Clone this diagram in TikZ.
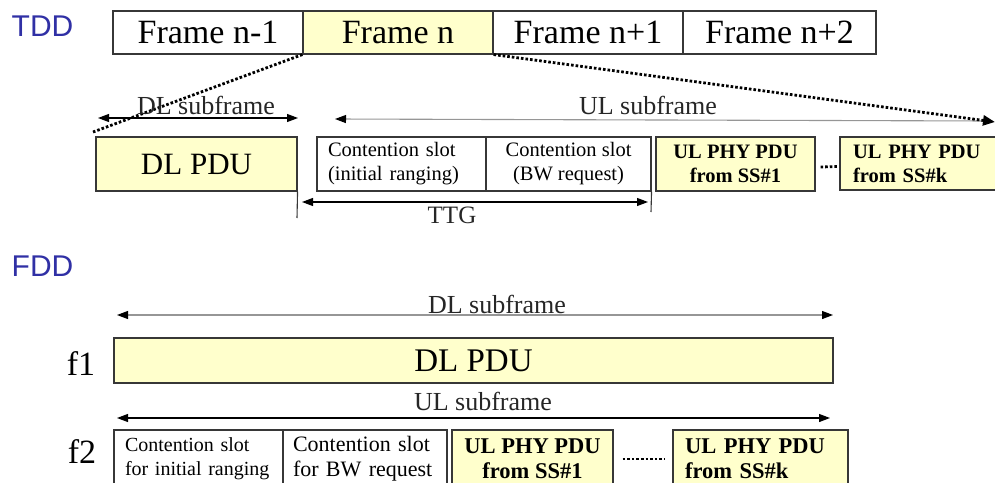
\documentclass[tikz,border=0pt]{standalone}
\usepackage{fontspec}
\setmainfont{Liberation Serif}
\newfontfamily\labelsans{Liberation Sans}
\usetikzlibrary{arrows.meta}
\definecolor{pdufill}{RGB}{255,255,204}
\definecolor{boxline}{RGB}{55,55,55}
\definecolor{modeblue}{RGB}{48,48,165}
\definecolor{spangray}{RGB}{150,150,150}

\begin{document}
\begin{tikzpicture}[x=1pt,y=-1pt,
  cell/.style={draw=boxline,line width=1.1pt,inner sep=0pt,text=black,align=center},
  pdu/.style={cell,fill=pdufill},
  mode/.style={font=\labelsans\fontsize{30}{30}\selectfont,text=modeblue,inner sep=0pt},
  spanlabel/.style={font=\fontsize{26}{26}\selectfont,inner sep=0pt,text=black!85},
  rowlabel/.style={font=\fontsize{34}{34}\selectfont,inner sep=0pt},
  framefont/.style={font=\fontsize{34}{34}\selectfont},
  spanarrow/.style={line width=1.1pt,draw=black,
    {Triangle[length=11pt,width=8pt]}-{Triangle[length=11pt,width=8pt]}},
  grayspan/.style={line width=1.1pt,draw=spangray,
    {Triangle[length=11pt,width=8pt,color=black,fill=black]}-{Triangle[length=11pt,width=8pt,color=black,fill=black]}},
  leftgray/.style={line width=1.1pt,draw=spangray,
    {Triangle[length=11pt,width=8pt,color=black,fill=black]}-},
  dotline/.style={line width=2.8pt,draw=black,dash pattern=on 2.6pt off 2pt},
  tick/.style={line width=1.1pt,draw=boxline}]

\useasboundingbox (0,0) rectangle (995,482);
\clip (0,0) rectangle (995,482);

% ---------------- TDD ----------------
\node[mode] (tddlabel) at (42.5,26.5) {TDD};

\node[cell,framefont,minimum width=190,minimum height=43] (fa) at (208,32.5) {Frame n-1};
\node[pdu,framefont,minimum width=190,minimum height=43] (fb) at (398,32.5) {Frame n};
\node[cell,framefont,minimum width=190,minimum height=43] (fc) at (588,32.5) {Frame n+1};
\node[cell,framefont,minimum width=193,minimum height=43] (fd) at (779.5,32.5) {Frame n+2};

% zoom lines from frame n down to its subframes
\coordinate (zoomL) at (93,132);
\coordinate (zoomR) at (995,122);
\draw[dotline] (fb.south west) -- (zoomL);

% subframe spans
\coordinate (tdlA) at (98,118);
\coordinate (tdlB) at (298,118);
\draw[spanarrow] (tdlA) -- (tdlB);
\node[spanlabel] (tdllab) at (206,105) {DL subframe};

\coordinate (tulA) at (335,119);
\coordinate (tulB) at (990,121);
\draw[leftgray] (tulA) -- (tulB);
\node[spanlabel] (tullab) at (648,105) {UL subframe};

\draw[dotline,-{Triangle[length=12pt,width=10pt]}] (fb.south east) -- (zoomR);

% subframe contents
\node[pdu,minimum width=201,minimum height=54,font=\fontsize{31}{31}\selectfont] (tdlpdu) at (196.5,164) {DL PDU};
\node[cell,minimum height=54,inner xsep=11pt,text width=147pt,align=left,font=\fontsize{20.5}{24}\selectfont] (tcs1) at (401.5,164) {Contention slot\\(initial ranging)};
\node[cell,minimum width=165,minimum height=54,font=\fontsize{20.5}{24}\selectfont] (tcs2) at (568.5,164) {Contention slot\\(BW request)};
\node[pdu,minimum width=159,minimum height=54,font=\bfseries\fontsize{20.5}{24}\selectfont] (tss1) at (735.5,164) {UL PHY PDU\\from SS\#1};
\node[pdu,minimum height=53,inner xsep=13pt,text width=134pt,align=left,font=\bfseries\fontsize{20.5}{24}\selectfont] (tssk) at (920,163.5) {UL PHY PDU\\from SS\#k};
\draw[dotline] ([xshift=5pt,yshift=-3pt]tss1.east) -- ([xshift=-2pt,yshift=-3pt]tssk.west);

% transmit/receive transition gap
\coordinate (ttgTickA) at (297,218);
\coordinate (ttgTickB) at (651,212);
\draw[tick] (tdlpdu.south east) -- (ttgTickA);
\draw[tick] (tcs2.south east) -- (ttgTickB);
\coordinate (ttgA) at (302,202);
\coordinate (ttgB) at (648,202);
\draw[spanarrow] (ttgA) -- (ttgB);
\node[spanlabel,font=\fontsize{25}{25}\selectfont] (ttglab) at (452,215) {TTG};

% ---------------- FDD ----------------
\node[mode] (fddlabel) at (42.5,266) {FDD};

\coordinate (fdlA) at (117,315);
\coordinate (fdlB) at (833,315);
\draw[grayspan] (fdlA) -- (fdlB);
\node[spanlabel] (fdllab) at (497,304) {DL subframe};

\node[rowlabel] (f1) at (81,364) {f1};
\node[pdu,minimum width=719,minimum height=45,font=\fontsize{33}{33}\selectfont] (fdlpdu) at (473.5,360.5) {DL PDU};

\coordinate (fulA) at (117,418);
\coordinate (fulB) at (830,418);
\draw[spanarrow] (fulA) -- (fulB);
\node[spanlabel] (fullab) at (483,401) {UL subframe};

\node[rowlabel] (f2) at (82,452) {f2};
\node[cell,minimum height=58,inner xsep=11pt,text width=147pt,align=left,font=\fontsize{20}{24}\selectfont] (fcs1) at (198.5,459) {Contention slot\\for initial ranging};
\node[cell,minimum height=58,inner xsep=10pt,text width=144pt,align=left,font=\fontsize{22}{25}\selectfont] (fcs2) at (365,459) {Contention slot\\for BW request};
\node[pdu,minimum width=161,minimum height=58,font=\bfseries\fontsize{22.5}{25}\selectfont] (fss1) at (532.5,459) {UL PHY PDU\\from SS\#1};
\node[pdu,minimum height=58,inner xsep=12pt,text width=151pt,align=left,font=\bfseries\fontsize{22.5}{25}\selectfont] (fssk) at (760.5,459) {UL PHY PDU\\from SS\#k};
\draw[dotline] ([xshift=9pt]fss1.east) -- ([xshift=-8pt]fssk.west);

\end{tikzpicture}
\end{document}
